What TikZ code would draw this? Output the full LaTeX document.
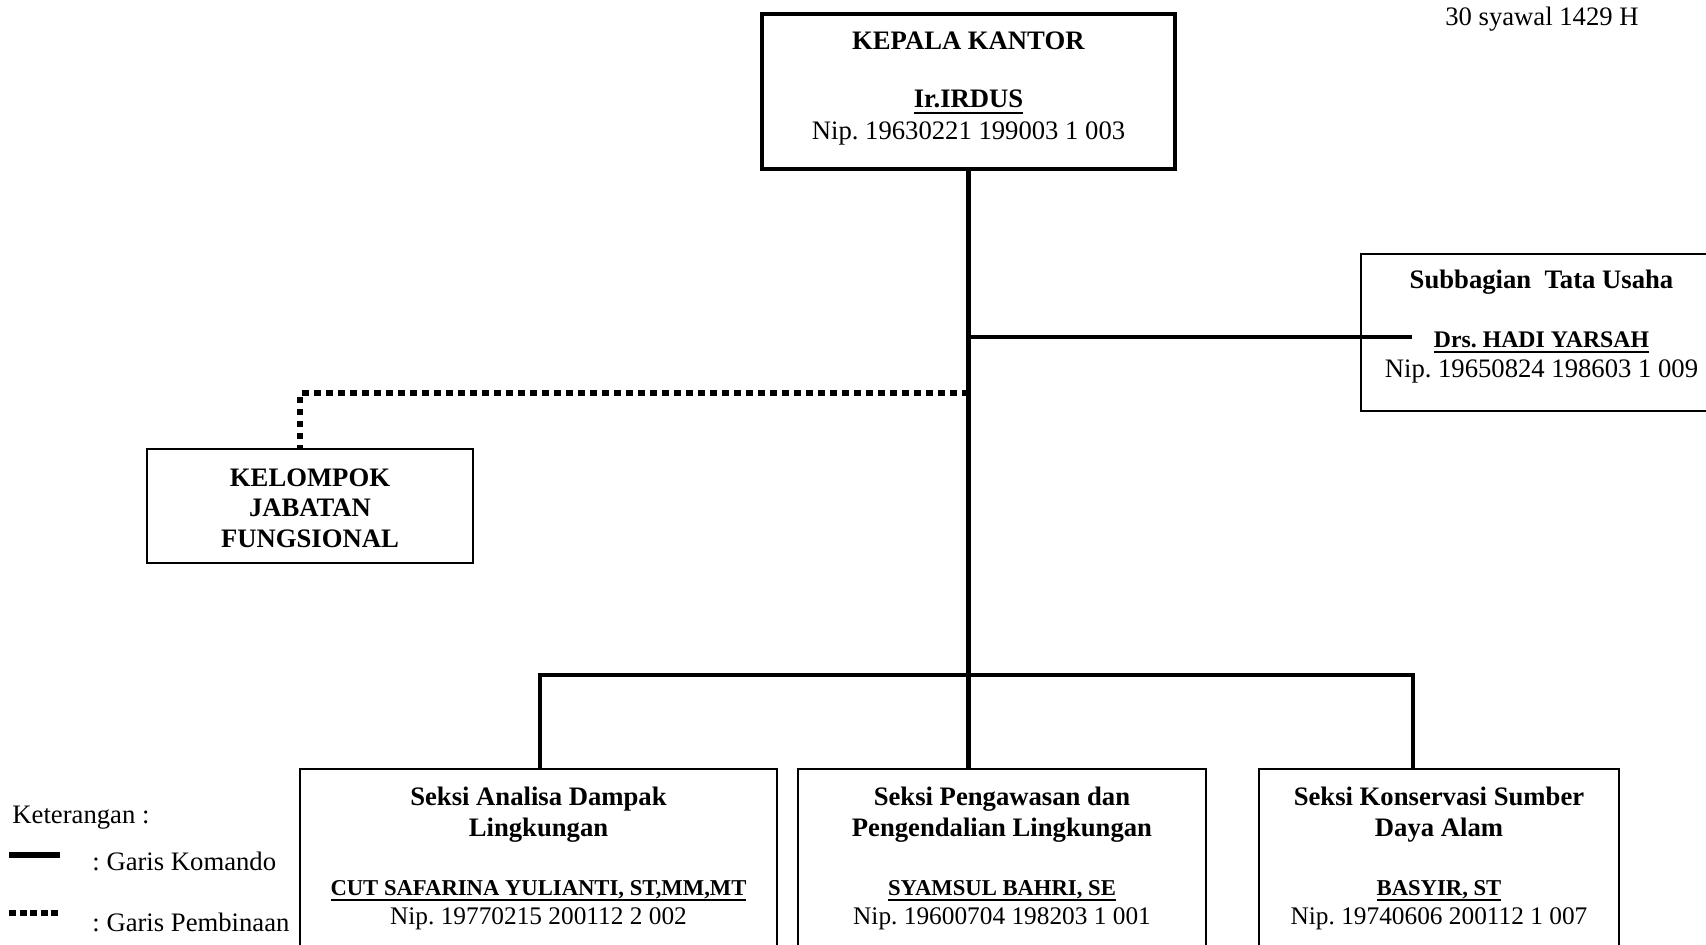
\documentclass[tikz,border=0pt]{standalone}
\usepackage{fontspec}
\setmainfont{Liberation Serif}
\usetikzlibrary{positioning,calc}
\frenchspacing
\newcommand{\garisnama}[1]{\vtop{\setbox0\hbox{#1}\dp0=0pt\box0\kern1.7pt\hrule height 0.9pt}}
\newcommand{\namaseksi}[1]{{\fontsize{10.2}{13.2}\selectfont\textbf{\garisnama{#1}}}}
\newcommand{\nipseksi}[1]{{\fontsize{11.4}{13.2}\selectfont #1}}

\begin{document}
\begin{tikzpicture}[
x=0.45pt, y=-0.45pt,
kotak/.style={rectangle, draw=black, line width=0.9pt, inner sep=0pt, align=flush center, anchor=north west, font=\fontsize{12}{13.2}\selectfont},
kotakutama/.style={kotak, line width=1.8pt},
komando/.style={draw=black, line width=2.2pt},
pembinaan/.style={draw=black, line width=2.4pt, dash pattern=on 3pt off 2.4pt},
keterangan/.style={anchor=base west, inner sep=0pt, font=\fontsize{12}{14}\selectfont}
]
\useasboundingbox (0,0) rectangle (1706,945);

\node[anchor=base, inner sep=0pt, font=\fontsize{12}{14}\selectfont] (tanggal) at (1542,25) {30 syawal 1429 H};

\node[kotakutama, text width=185.85pt, text height=15.75pt, text depth=54pt, font=\fontsize{12}{14}\selectfont] (kepala) at (760,12) {\textbf{KEPALA KANTOR}\\[12.5pt]\textbf{\garisnama{Ir.IRDUS}}\\Nip. 19630221 199003 1 003};

\node[kotak, text width=162.45pt, text height=15.3pt, text depth=55.35pt, font=\fontsize{12}{13.65}\selectfont] (tatausaha) at (1360,253) {\textbf{Subbagian\ \ Tata Usaha}\\[13.05pt]{\fontsize{10.7}{13.65}\selectfont\textbf{\garisnama{Drs. HADI YARSAH}}}\\Nip. 19650824 198603 1 009};

\node[kotak, text width=146.7pt, text height=16.65pt, text depth=34.65pt, font=\fontsize{12}{13.8}\selectfont\bfseries] (kelompok) at (146,448) {KELOMPOK\\JABATAN\\FUNGSIONAL};

\node[kotak, text width=214.65pt, text height=16.2pt, text depth=90pt] (seksiAmdal) at (299,768) {\textbf{Seksi Analisa Dampak}\\[0.9pt]\textbf{Lingkungan}\\[13.35pt]\namaseksi{CUT SAFARINA YULIANTI, ST,MM,MT}\\\nipseksi{Nip. 19770215 200112 2 002}};
\node[kotak, text width=183.6pt, text height=16.2pt, text depth=90pt] (seksiPengawasan) at (797,768) {\textbf{Seksi Pengawasan dan}\\[0.9pt]\textbf{Pengendalian Lingkungan}\\[13.35pt]\namaseksi{SYAMSUL BAHRI, SE}\\\nipseksi{Nip. 19600704 198203 1 001}};
\node[kotak, text width=162pt, text height=16.2pt, text depth=90pt] (seksiKonservasi) at (1258,768) {\textbf{Seksi Konservasi Sumber}\\[0.9pt]\textbf{Daya Alam}\\[13.35pt]\namaseksi{BASYIR, ST}\\\nipseksi{Nip. 19740606 200112 1 007}};

%Garis komando
\coordinate (tuUjung) at (1412,337);
\coordinate (busKiri) at (540,675);
\coordinate (busKanan) at (1413,675);
\draw[komando] (kepala.south) -- (kepala.south |- seksiPengawasan.north);
\draw[komando] (kepala.south |- tuUjung) -- (tuUjung);
\draw[komando] (busKiri |- seksiAmdal.north) -- (busKiri) -- (busKanan) -- (busKanan |- seksiKonservasi.north);

%Garis pembinaan
\coordinate (kjfBelok) at (300,393);
\draw[pembinaan] (kepala.south |- kjfBelok) -- (kjfBelok) -- (kjfBelok |- kelompok.north);

%Keterangan
\node[keterangan] (ket) at (12,823) {Keterangan :};
\node[keterangan] (ketKomando) at (92,870) {: Garis Komando};
\node[keterangan] (ketPembinaan) at (92,931) {: Garis Pembinaan};
\coordinate (lgKomando) at (9,855);
\coordinate (lgPembinaan) at (9,913);
\draw[komando, line width=2.6pt] (lgKomando) -- ++(51,0);
\draw[pembinaan, dash pattern=on 3.15pt off 1.6pt] (lgPembinaan) -- ++(51,0);
\end{tikzpicture}
\end{document}
